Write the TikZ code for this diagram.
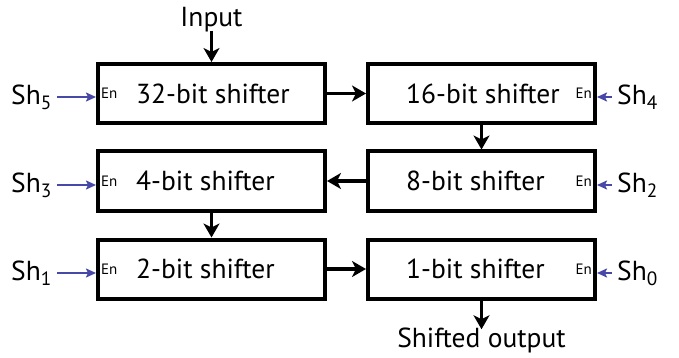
\documentclass[tikz,border=0pt]{standalone}
\usepackage{fontspec}
\setmainfont{PT Sans}
\usepackage{xcolor}
\usetikzlibrary{arrows.meta,positioning}
\definecolor{enblue}{RGB}{72,72,168}

\begin{document}
\begin{tikzpicture}[x=1pt, y=-1pt,
    every node/.style={inner sep=0pt, font=\fontsize{27.5}{32}\selectfont},
    shifter/.style={draw, line width=4pt, minimum width=227pt, minimum height=59pt},
    enlbl/.style={font=\fontsize{15}{18}\selectfont},
    datarrow/.style={line width=3.5pt, -{Stealth[length=14pt, width=16pt, inset=4pt]}},
    enarrow/.style={enblue, line width=1.8pt, -{Stealth[length=10pt, width=9pt, inset=2pt]}}]
    \useasboundingbox (0,0) rectangle (679,358);

    % Shifter boxes
    \node[shifter] (b32) at (211.5,93.5) {};
    \node[shifter] (b16) at (481.5,93.5) {};
    \node[shifter] (b8)  at (481.5,181) {};
    \node[shifter] (b4)  at (211.5,181) {};
    \node[shifter] (b2)  at (211.5,269) {};
    \node[shifter] (b1)  at (481.5,269) {};

    % Box texts
    \node[right=40pt of b32.west] (t32) {32-bit shifter};
    \node[right=40pt of b16.west] (t16) {16-bit shifter};
    \node[right=40pt of b8.west]  (t8)  {8-bit shifter};
    \node[right=40pt of b4.west]  (t4)  {4-bit shifter};
    \node[right=40pt of b2.west]  (t2)  {2-bit shifter};
    \node[right=40pt of b1.west]  (t1)  {1-bit shifter};

    % Enable inputs
    \node[enlbl, right=5pt of b32.west] (en32) {En};
    \node[enlbl, right=5pt of b4.west]  (en4)  {En};
    \node[enlbl, right=5pt of b2.west]  (en2)  {En};
    \node[enlbl, left=5pt of b16.east]  (en16) {En};
    \node[enlbl, left=5pt of b8.east]   (en8)  {En};
    \node[enlbl, left=5pt of b1.east]   (en1)  {En};

    \node[anchor=east] (sh5) at (52,97) {Sh\textsubscript{5}};
    \node[anchor=east] (sh3) at (52,185) {Sh\textsubscript{3}};
    \node[anchor=east] (sh1) at (52,273) {Sh\textsubscript{1}};
    \node[anchor=west] (sh4) at (617,97) {Sh\textsubscript{4}};
    \node[anchor=west] (sh2) at (617,185) {Sh\textsubscript{2}};
    \node[anchor=west] (sh0) at (617,273) {Sh\textsubscript{0}};

    \draw[enarrow] (sh5.east) ++(5pt,0) -- (sh5.east -| b32.west);
    \draw[enarrow] (sh3.east) ++(5pt,0) -- (sh3.east -| b4.west);
    \draw[enarrow] (sh1.east) ++(5pt,0) -- (sh1.east -| b2.west);
    \draw[enarrow] (sh4.west) ++(-5pt,0) -- (sh4.west -| b16.east);
    \draw[enarrow] (sh2.west) ++(-5pt,0) -- (sh2.west -| b8.east);
    \draw[enarrow] (sh0.west) ++(-5pt,0) -- (sh0.west -| b1.east);

    % Input and output
    \node (in) at (211.5,20) {Input};
    \node (out) at (481.5,340) {Shifted output};
    \draw[datarrow] (in.south) ++(0,2pt) -- (b32.north);
    \draw[datarrow] (b1.south) -- ([yshift=-2pt]out.north);

    % Data flow
    \draw[datarrow] (b32.east) -- (b16.west);
    \draw[datarrow] (b16.south) -- (b8.north);
    \draw[datarrow] (b8.west) -- (b4.east);
    \draw[datarrow] (b4.south) -- (b2.north);
    \draw[datarrow] (b2.east) -- (b1.west);
\end{tikzpicture}
\end{document}
